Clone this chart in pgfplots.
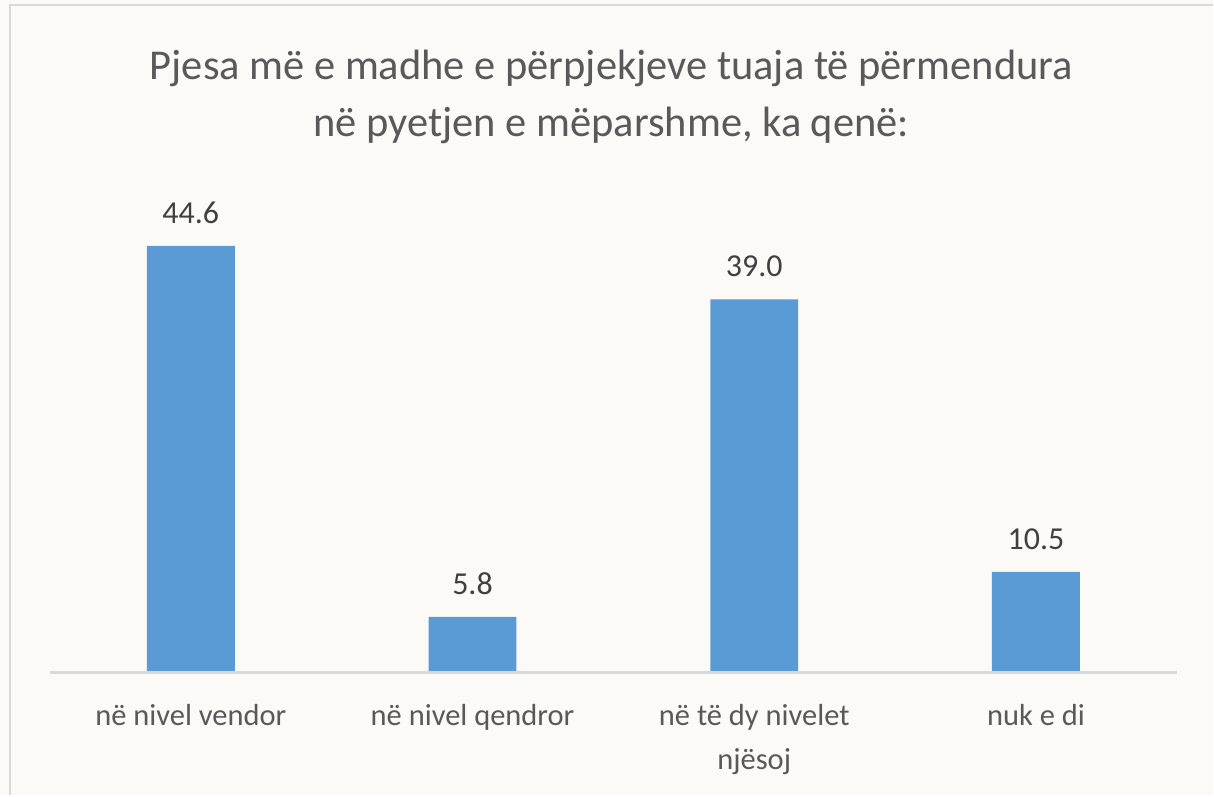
\documentclass[border=0pt]{standalone}
\usepackage{pgfplots}
\pgfplotsset{compat=1.18}
\usepackage{fontspec}
\setmainfont{Carlito}
\definecolor{bgc}{HTML}{FBFAF6}
\definecolor{bordc}{HTML}{D9D9D9}
\definecolor{barc}{HTML}{5B9BD5}
\definecolor{txtc}{HTML}{595959}
\definecolor{lblc}{HTML}{404040}
\begin{document}
\begin{tikzpicture}[x=1bp,y=1bp]
\fill[bgc] (0,0) rectangle (1214,-796);
\draw[bordc, line width=2.5bp] (10,-796) -- (10,-5) -- (1214,-5);
\node[txtc, align=center, font=\fontsize{42.5bp}{57bp}\selectfont] at (612,-97)
  {Pjesa më e madhe e përpjekjeve tuaja të përmendura\\në pyetjen e mëparshme, ka qenë:};
\begin{axis}[
  at={(50bp,-673bp)}, anchor=south west,
  scale only axis, width=1128bp, height=478.7bp,
  xmin=-0.5, xmax=3.5, ymin=0, ymax=50,
  axis lines=none,
  ybar, bar width=88bp,
  xtick=data,
  nodes near coords,
  every node near coord/.append style={lblc, font=\fontsize{32bp}{38bp}\selectfont, yshift=19bp,
    /pgf/number format/.cd, fixed, fixed zerofill, precision=1, assume math mode=true},
  clip=false,
]
\addplot[fill=barc, draw=none] coordinates {(0,44.6) (1,5.8) (2,39.0) (3,10.5)};
\draw[bordc, line width=2.5bp] (axis cs:-0.5,0) -- (axis cs:3.5,0);
\foreach \i/\l in {0/{në nivel vendor},1/{në nivel qendror},2/{në të dy nivelet\\njësoj},3/{nuk e di}} {
  \edef\tmp{\noexpand\node[txtc, anchor=north, align=center, font=\noexpand\fontsize{30.5bp}{44bp}\noexpand\selectfont] at (axis cs:\i,0) [yshift=-29bp] {\unexpanded\expandafter{\l}};}
  \tmp
}
\end{axis}
\end{tikzpicture}
\end{document}
